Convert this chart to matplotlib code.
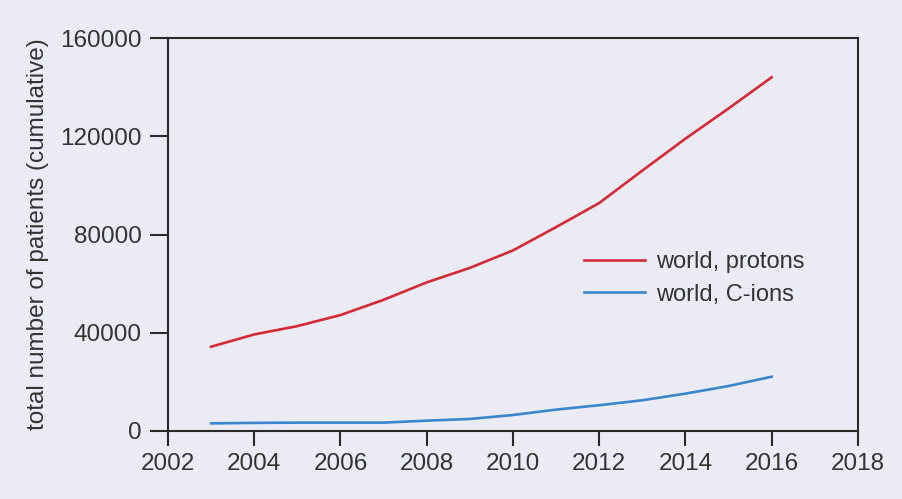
import matplotlib.pyplot as plt

# cumulative patient numbers
years = [2003, 2004, 2005, 2006, 2007, 2008, 2009, 2010, 2011, 2012, 2013, 2014, 2015, 2016]
protons = [34300, 39300, 42700, 47200, 53400, 60500, 66400, 73500, 83000, 92800, 106000, 119000, 131300, 144000]
c_ions = [3100, 3300, 3400, 3400, 3400, 4200, 4900, 6500, 8700, 10500, 12500, 15200, 18300, 22100]

bg = '#ebebf6'
txt = '#333333'

plt.rcParams['font.family'] = ['Liberation Sans', 'DejaVu Sans']

fig = plt.figure(figsize=(9.03, 4.99), dpi=100, facecolor=bg)
ax = fig.add_axes([0.186, 0.1363, 0.764, 0.7875], facecolor=bg)

ax.plot(years, protons, color='#d42a38', lw=1.9, label='world, protons')
ax.plot(years, c_ions, color='#3a86cc', lw=1.9, label='world, C-ions')

ax.set_xlim(2002, 2018)
ax.set_ylim(0, 160000)
ax.set_xticks(range(2002, 2019, 2))
ax.set_yticks(range(0, 160001, 40000))

for s in ax.spines.values():
    s.set_color('#2a2a2a')
    s.set_linewidth(1.5)

ax.tick_params(axis='x', direction='out', length=11, width=1.5, color='#2a2a2a',
               labelsize=17.5, labelcolor=txt, pad=5)
ax.tick_params(axis='y', direction='out', length=13, width=1.5, color='#2a2a2a',
               labelsize=17.5, labelcolor=txt, pad=6)

ax.set_ylabel('total number of patients (cumulative)', fontsize=17.5, color=txt, labelpad=8)

ax.legend(loc='upper left', bbox_to_anchor=(0.603, 0.458), frameon=False,
          fontsize=17, labelcolor=txt, handlelength=2.6, handletextpad=0.45,
          labelspacing=0.45, borderpad=0, borderaxespad=0)

fig.savefig('out.png', dpi=100, facecolor=bg)
